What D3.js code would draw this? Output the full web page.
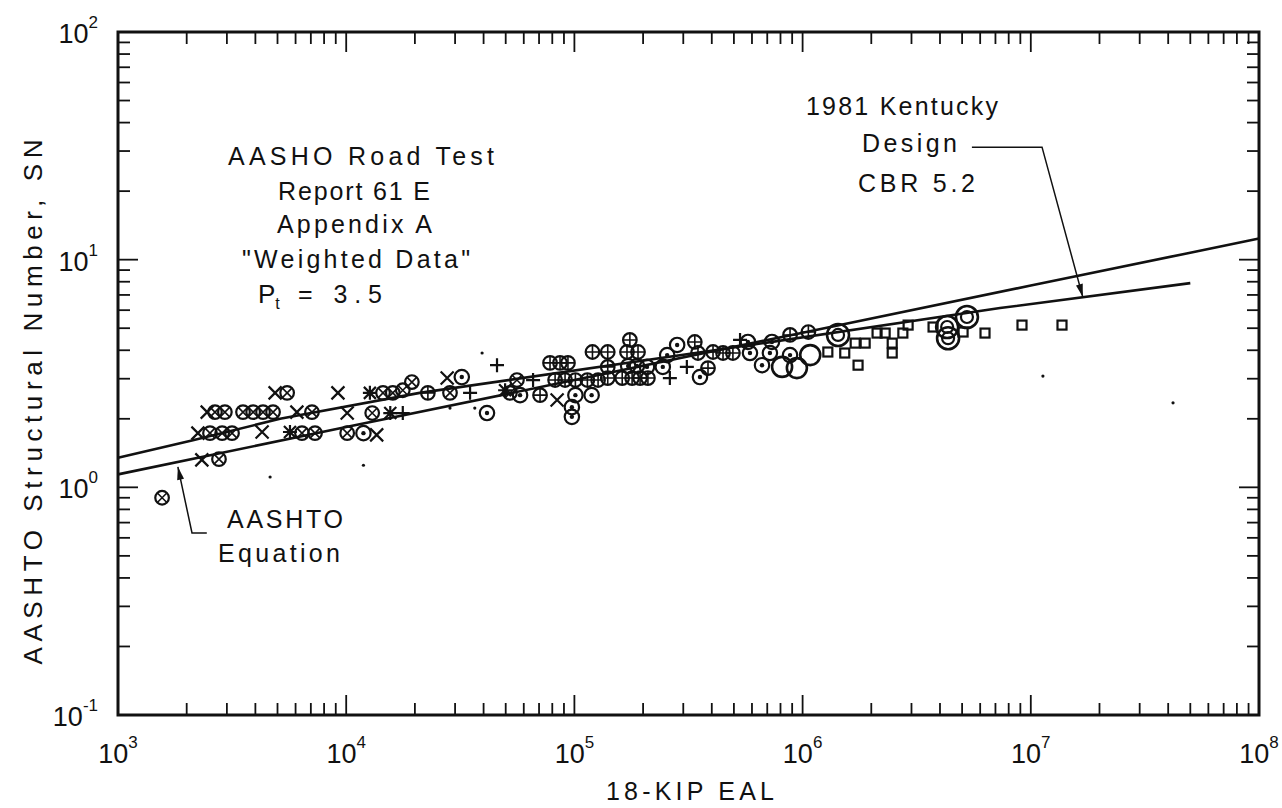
<!DOCTYPE html>
<html>
<head>
<meta charset="utf-8">
<script src="https://cdn.jsdelivr.net/npm/d3@7"></script>
<style>
  html, body { margin: 0; padding: 0; background: #fff; }
  svg { display: block; }
  .lbl { font-family: 'Liberation Sans', 'DejaVu Sans', sans-serif; fill: #111; }
</style>
</head>
<body>
<div id="chart"></div>
<script>
'use strict';

// axes (log-log)
var xDomain = [1e3, 1e8];
var yDomain = [0.1, 100];
var xDecades = [1e3, 1e4, 1e5, 1e6, 1e7, 1e8];
var xExponents = ['3', '4', '5', '6', '7', '8'];
var yDecades = [0.1, 1, 10, 100];
var yExponents = ['-1', '0', '1', '2'];

// design curves  [18-kip EAL, SN]
var kentuckyLine = [[1000, 1.35], [2130, 1.61], [5130, 2.0], [21000, 2.6], [481000, 4.09],
  [7330000, 6.13], [50000000, 7.89]];
var aashtoLine = [[1000, 1.14], [1e4, 1.84], [1e5, 2.96], [1e6, 4.78], [1e7, 7.7],
  [4.7e7, 10.6], [1e8, 12.4]];

// road test points  [18-kip EAL, SN]
var crossPts = [[2330, 1.32], [2240, 1.73], [4280, 1.75], [2460, 2.14], [6080, 2.14], [10100, 2.12],
  [4880, 2.6], [9200, 2.6], [27700, 3.02], [84000, 2.42], [13600, 1.70]];
var circleCrossPts = [[1560, 0.90], [2770, 1.33], [2530, 1.73], [2860, 1.73], [3160, 1.73], [6400, 1.73],
  [7300, 1.73], [10100, 1.73], [2660, 2.14], [2940, 2.14], [3530, 2.14], [3910, 2.14], [4320, 2.14],
  [4780, 2.14], [7080, 2.14], [13000, 2.12], [5510, 2.6], [14500, 2.6], [16000, 2.6], [17700, 2.67],
  [19400, 2.90], [28500, 2.6], [52200, 2.6], [56000, 2.96]];
var asteriskPts = [[5670, 1.75], [15600, 2.12], [12700, 2.6], [49700, 2.67]];
var plusPts = [[17700, 2.12], [34900, 2.6], [45800, 3.44], [65900, 2.96], [262000, 3.02],
  [311000, 3.38], [532000, 4.44]];
var circlePlusPts = [[22800, 2.6], [70700, 2.54], [78200, 3.52], [86500, 3.52], [93700, 3.52],
  [82300, 2.96], [91000, 2.96], [101000, 2.96], [114000, 2.96], [127000, 2.96], [120000, 3.93],
  [140000, 3.93], [170000, 3.93], [190000, 3.93], [175000, 4.44], [140000, 3.38], [140000, 3.02],
  [162000, 3.02], [179000, 3.02], [194000, 3.02], [210000, 3.02], [337000, 4.35], [385000, 3.34],
  [348000, 3.89], [405000, 3.93], [448000, 3.89], [495000, 3.89], [881000, 4.67], [1060000, 4.81]];
var circleDotPts = [[11900, 1.73], [32100, 3.05], [41400, 2.12], [57800, 2.54], [101000, 2.54],
  [119000, 2.54], [97500, 2.25], [97500, 2.04], [172000, 3.41], [188000, 3.41], [208000, 3.38],
  [255000, 3.81], [282000, 4.22], [244000, 3.38], [355000, 3.05], [576000, 4.35], [588000, 3.89],
  [734000, 4.35], [719000, 3.89], [664000, 3.44], [881000, 3.81]];
var bigCirclePts = [[813000, 3.38], [944000, 3.34], [1080000, 3.81]];
var ringPts = [[1430000, 4.67], [4300000, 5.06], [5250000, 5.60], [4340000, 4.52]];
var squarePts = [[1290000, 3.93], [1530000, 3.89], [1750000, 3.44], [1700000, 4.30], [1880000, 4.30],
  [2120000, 4.76], [2300000, 4.76], [2470000, 4.30], [2470000, 3.89], [2750000, 4.76], [2900000, 5.16],
  [3730000, 5.06], [5050000, 4.81], [6300000, 4.76], [9150000, 5.16], [13700000, 5.16]];
var dotPts = [[28500, 2.23], [36600, 2.23], [39400, 3.89], [4640, 1.11], [11900, 1.25],
  [42000000, 2.35], [11300000, 3.08]];

// leader lines  [18-kip EAL, SN], last point is the arrow tip
var kentuckyLeader = [[5.52e6, 31.2], [1.12e7, 31.2], [1.69e7, 6.85]];
var aashtoLeader = [[2450, 0.63], [2110, 0.63], [1830, 1.23]];

var ink = '#111';
var box = { left: 118, right: 1259, top: 32, bottom: 715 };

var svg = d3.select('#chart').append('svg')
  .attr('width', 1282)
  .attr('height', 808);

var x = d3.scaleLog().domain(xDomain).range([box.left, box.right]);
var y = d3.scaleLog().domain(yDomain).range([box.bottom, box.top]);

function isMajor(d) {
  var l = Math.log10(d);
  return Math.abs(l - Math.round(l)) < 1e-6;
}

function tickLen(d) {
  return isMajor(d) ? 20 : 12;
}

// ticks on all four sides, pointing inward
var ticks = svg.append('g')
  .attr('stroke', ink)
  .attr('stroke-width', 1.8);

ticks.selectAll('line.xb').data(x.ticks()).enter().append('line')
  .attr('x1', x).attr('x2', x)
  .attr('y1', box.bottom).attr('y2', function(d) { return box.bottom - tickLen(d); });

ticks.selectAll('line.xt').data(x.ticks()).enter().append('line')
  .attr('x1', x).attr('x2', x)
  .attr('y1', box.top).attr('y2', function(d) { return box.top + tickLen(d); });

ticks.selectAll('line.yl').data(y.ticks()).enter().append('line')
  .attr('y1', y).attr('y2', y)
  .attr('x1', box.left).attr('x2', function(d) { return box.left + tickLen(d); });

ticks.selectAll('line.yr').data(y.ticks()).enter().append('line')
  .attr('y1', y).attr('y2', y)
  .attr('x1', box.right).attr('x2', function(d) { return box.right - tickLen(d); });

// frame
svg.append('rect')
  .attr('x', box.left).attr('y', box.top)
  .attr('width', box.right - box.left)
  .attr('height', box.bottom - box.top)
  .attr('fill', 'none')
  .attr('stroke', ink)
  .attr('stroke-width', 3);

// power-of-ten tick labels
function powerLabel(sel, exps) {
  sel.append('tspan').text('10');
  sel.append('tspan')
    .attr('dy', -15)
    .attr('font-size', 17)
    .text(function(d, i) { return exps[i]; });
}

svg.append('g').selectAll('text').data(xDecades).enter().append('text')
  .attr('class', 'lbl')
  .attr('font-size', 27)
  .attr('text-anchor', 'middle')
  .attr('x', x)
  .attr('y', box.bottom + 48)
  .call(powerLabel, xExponents);

svg.append('g').selectAll('text').data(yDecades).enter().append('text')
  .attr('class', 'lbl')
  .attr('font-size', 27)
  .attr('text-anchor', 'end')
  .attr('x', 98)
  .attr('y', function(d) { return y(d) + 11; })
  .call(powerLabel, yExponents);

// axis titles
svg.append('text')
  .attr('class', 'lbl')
  .attr('font-size', 25)
  .attr('text-anchor', 'middle')
  .attr('x', 690).attr('y', 800)
  .attr('textLength', 168)
  .text('18-KIP EAL');

svg.append('text')
  .attr('class', 'lbl')
  .attr('font-size', 26)
  .attr('text-anchor', 'middle')
  .attr('transform', 'translate(42,402) rotate(-90)')
  .attr('textLength', 525)
  .text('AASHTO Structural Number, SN');

// curves
var line = d3.line()
  .x(function(d) { return x(d[0]); })
  .y(function(d) { return y(d[1]); });

svg.append('g').selectAll('path').data([kentuckyLine, aashtoLine]).enter().append('path')
  .attr('d', line)
  .attr('fill', 'none')
  .attr('stroke', ink)
  .attr('stroke-width', 2.6);

// markers
var plot = svg.append('g')
  .attr('stroke', ink)
  .attr('fill', 'none')
  .attr('stroke-width', 2.2);

function series(pts, drawFn) {
  var g = plot.append('g').selectAll('g').data(pts).enter().append('g')
    .attr('transform', function(d) { return 'translate(' + x(d[0]) + ',' + y(d[1]) + ')'; });
  drawFn(g);
}

series(crossPts, function(g) {
  g.append('path').attr('d', 'M-6.5,-6.5L6.5,6.5M-6.5,6.5L6.5,-6.5');
});

series(circleCrossPts, function(g) {
  g.append('circle').attr('r', 6.8);
  g.append('path').attr('d', 'M-4.5,-4.5L4.5,4.5M-4.5,4.5L4.5,-4.5').attr('stroke-width', 1.6);
});

series(asteriskPts, function(g) {
  g.append('path').attr('d', 'M-6,-6L6,6M-6,6L6,-6M-7,0H7M0,-7V7');
});

series(plusPts, function(g) {
  g.append('path').attr('d', 'M-7,0H7M0,-7V7');
});

series(circlePlusPts, function(g) {
  g.append('circle').attr('r', 6.8);
  g.append('path').attr('d', 'M-6.8,0H6.8M0,-6.8V6.8').attr('stroke-width', 1.6);
});

series(circleDotPts, function(g) {
  g.append('circle').attr('r', 7.2);
  g.append('circle').attr('r', 2.2).attr('fill', ink).attr('stroke', 'none');
});

series(bigCirclePts, function(g) {
  g.append('circle').attr('r', 10).attr('stroke-width', 2.6);
});

series(ringPts, function(g) {
  g.append('circle').attr('r', 11).attr('stroke-width', 2.6);
  g.append('circle').attr('r', 6).attr('stroke-width', 2.2);
});

series(squarePts, function(g) {
  g.append('rect').attr('x', -4.5).attr('y', -4.5).attr('width', 9).attr('height', 9);
});

series(dotPts, function(g) {
  g.append('circle').attr('r', 1.6).attr('fill', ink).attr('stroke', 'none');
});

// leaders with filled arrow heads
function leader(pts) {
  svg.append('path')
    .attr('d', line(pts))
    .attr('fill', 'none')
    .attr('stroke', ink)
    .attr('stroke-width', 1.5);

  var a = pts[pts.length - 2], b = pts[pts.length - 1];
  var x0 = x(a[0]), y0 = y(a[1]), x1 = x(b[0]), y1 = y(b[1]);
  var ang = Math.atan2(y1 - y0, x1 - x0) * 180 / Math.PI;
  svg.append('path')
    .attr('d', 'M0,0L-13,-3.5L-13,3.5Z')
    .attr('fill', ink)
    .attr('transform', 'translate(' + x1 + ',' + y1 + ') rotate(' + ang + ')');
}

leader(kentuckyLeader);
leader(aashtoLeader);

// annotations (x = left edge, w = lettered width)
var notes = [
  { t: 'AASHO Road Test', x: 228, y: 165, w: 266 },
  { t: 'Report 61 E', x: 278, y: 200, w: 152 },
  { t: 'Appendix A', x: 277, y: 233, w: 155 },
  { t: '"Weighted Data"', x: 242, y: 268, w: 228 },
  { t: '= 3.5', x: 298, y: 303, w: 84 },
  { t: '1981 Kentucky', x: 806, y: 115, w: 192 },
  { t: 'Design', x: 862, y: 152, w: 95 },
  { t: 'CBR 5.2', x: 858, y: 192, w: 117 },
  { t: 'AASHTO', x: 227, y: 528, w: 116 },
  { t: 'Equation', x: 218, y: 562, w: 122 }
];

svg.append('g').selectAll('text').data(notes).enter().append('text')
  .attr('class', 'lbl')
  .attr('font-size', 25)
  .attr('x', function(d) { return d.x; })
  .attr('y', function(d) { return d.y; })
  .attr('textLength', function(d) { return d.w; })
  .attr('lengthAdjust', 'spacing')
  .text(function(d) { return d.t; });

var pt = svg.append('text')
  .attr('class', 'lbl')
  .attr('font-size', 26)
  .attr('x', 258).attr('y', 303);
pt.append('tspan').text('P');
pt.append('tspan').attr('font-size', 16).attr('dy', 6).text('t');
</script>
</body>
</html>
